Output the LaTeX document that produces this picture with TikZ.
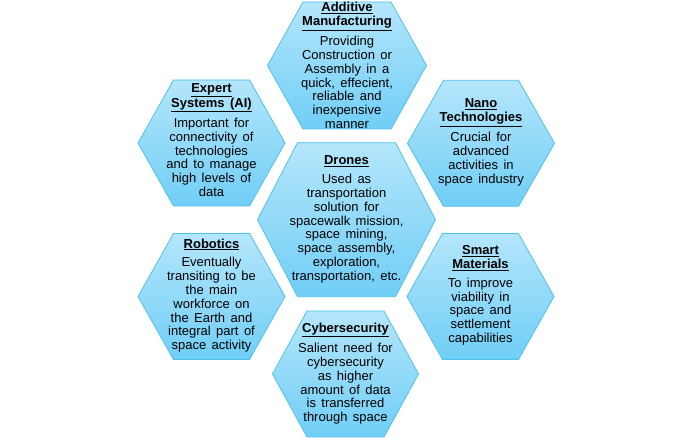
\documentclass[tikz,border=0pt]{standalone}
\usepackage{fontspec}
\setmainfont{Liberation Sans}[WordSpace=1.5]
\definecolor{hextop}{RGB}{180,230,251}
\definecolor{hexbot}{RGB}{112,206,246}
\definecolor{hexline}{RGB}{78,194,236}
\newcommand\hexa[5]{% cx, cy (from top), half width, half top edge, half height
  \path[draw=hexline, line width=0.8pt, top color=hextop, bottom color=hexbot]
    ({#1-#3},{438-#2}) -- ({#1-#4},{438-#2+#5}) -- ({#1+#4},{438-#2+#5})
    -- ({#1+#3},{438-#2}) -- ({#1+#4},{438-#2-#5}) -- ({#1-#4},{438-#2-#5}) -- cycle;}
\newcommand\ttl[1]{\textbf{\underline{#1}}}
\tikzset{hextext/.style={align=center, inner sep=0pt, text=black,
  font=\fontsize{13}{13.8}\selectfont}}
\begin{document}
\begin{tikzpicture}[x=1pt,y=1pt]
\useasboundingbox (0,0) rectangle (692,438);
\hexa{347}{65.5}{79.5}{44}{63.5}
\hexa{211.5}{143}{73.5}{38}{63}
\hexa{481}{143.3}{73.5}{37.5}{63}
\hexa{346.5}{219.7}{89}{49}{77}
\hexa{211.5}{296.5}{73.5}{38}{63}
\hexa{480.5}{296.5}{73.5}{38}{63}
\hexa{345.5}{374}{73}{38.5}{63}

\node[hextext] (additive) at (347,{438-65.5}) {\ttl{Additive}\\\ttl{Manufacturing}\\[5pt]Providing\\Construction or\\Assembly in a\\quick, effecient,\\reliable and\\inexpensive\\manner};
\node[hextext] (expert) at (211.5,{438-140}) {\ttl{Expert}\\\ttl{Systems (AI)}\\[5pt]Important for\\connectivity of\\technologies\\and to manage\\high levels of\\data};
\node[hextext] (nano) at (481,{438-142.5}) {\ttl{Nano}\\\ttl{Technologies}\\[5pt]Crucial for\\advanced\\activities in\\space industry};
\node[hextext] (drones) at (346.5,{438-219.5}) {\ttl{Drones}\\[5pt]Used as\\transportation\\solution for\\spacewalk mission,\\space mining,\\space assembly,\\exploration,\\transportation, etc.};
\node[hextext] (robotics) at (211.5,{438-295.5}) {\ttl{Robotics}\\[5pt]Eventually\\transiting to be\\the main\\workforce on\\the Earth and\\integral part of\\space activity};
\node[hextext] (smart) at (480.5,{438-295.5}) {\ttl{Smart}\\\ttl{Materials}\\[5pt]To improve\\viability in\\space and\\settlement\\capabilities};
\node[hextext] (cyber) at (345.5,{438-373.7}) {\ttl{Cybersecurity}\\[5pt]Salient need for\\cybersecurity\\as higher\\amount of data\\is transferred\\through space};
\end{tikzpicture}
\end{document}
